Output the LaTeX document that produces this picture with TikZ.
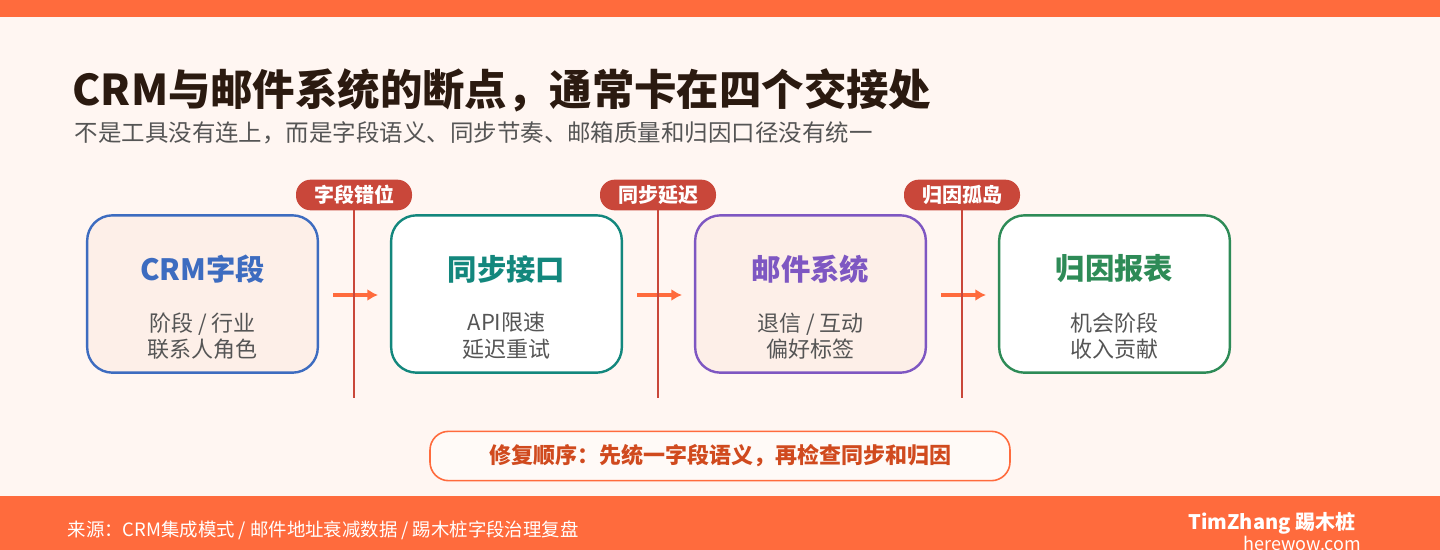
\documentclass[tikz,border=0pt]{standalone}
\usepackage{fontspec}
\setmainfont{Noto Sans CJK SC}
\begin{document}
\begin{tikzpicture}[x=0.75pt,y=-0.75pt,
  box/.style={draw,line width=1.8pt,rounded corners=19pt,minimum width=173pt,minimum height=118pt},
  ttl/.style={font=\fontsize{22}{24}\selectfont\bfseries},
  sub/.style={font=\fontsize{16.5}{20}\selectfont,text=txt,align=center},
  pill/.style={fill=pillc,rounded corners=11pt,minimum width=87pt,minimum height=23pt,text=white,font=\fontsize{15}{16}\selectfont\bfseries,inner sep=0pt},
  vl/.style={draw=pillc,line width=1.5pt},
  ar/.style={draw=orng,line width=2.6pt,-{Latex[length=8pt,width=9pt]}}]
\usetikzlibrary{arrows.meta}
\definecolor{orng}{HTML}{FF6B3D}
\definecolor{bg}{HTML}{FFF6F2}
\definecolor{peach}{HTML}{FDEFE8}
\definecolor{txt}{HTML}{555555}
\definecolor{pillc}{HTML}{C9473A}
\definecolor{c1}{HTML}{3D6CC0}
\definecolor{c2}{HTML}{13877D}
\definecolor{c3}{HTML}{7E57C2}
\definecolor{c4}{HTML}{2E8B57}
\useasboundingbox (0,0) rectangle (1440,550);
\fill[bg] (0,0) rectangle (1440,550);
\fill[orng] (0,0) rectangle (1440,17);
\fill[orng] (0,496) rectangle (1440,550);
\node[anchor=west,font=\fontsize{31.8}{34}\selectfont\bfseries,text={rgb,255:red,43;green,26;blue,16}] (title) at (68,90) {CRM与邮件系统的断点，通常卡在四个交接处};
\node[anchor=west,font=\fontsize{17.6}{20}\selectfont,text=txt] (subt) at (70,133) {不是工具没有连上，而是字段语义、同步节奏、邮箱质量和归因口径没有统一};
% boxes
\node[box,draw=c1,fill=peach] (b1) at (202.5,294) {};
\node[box,draw=c2,fill=white] (b2) at (506.5,294) {};
\node[box,draw=c3,fill=peach] (b3) at (810.5,294) {};
\node[box,draw=c4,fill=white] (b4) at (1114.5,294) {};
\node[ttl,text=c1] (t1) at (202.5,269) {CRM字段};
\node[ttl,text=c2] (t2) at (506.5,269) {同步接口};
\node[ttl,text=c3] (t3) at (810.5,269) {邮件系统};
\node[ttl,text=c4] (t4) at (1114.5,269) {归因报表};
\node[sub] (s1) at (202.5,336) {阶段 / 行业\\联系人角色};
\node[sub] (s2) at (506.5,336) {API限速\\延迟重试};
\node[sub] (s3) at (810.5,336) {退信 / 互动\\偏好标签};
\node[sub] (s4) at (1114.5,336) {机会阶段\\收入贡献};
% arrows
\foreach \i/\x in {1/333,2/637,3/941}{
  \coordinate (a\i) at (\x,295); \coordinate (e\i) at (\x+45,295);
  \draw[ar] (a\i) -- (e\i);}
% vertical lines and pills
\foreach \i/\x/\l in {1/354/字段错位,2/658/同步延迟,3/962/归因孤岛}{
  \coordinate (vt\i) at (\x,200); \coordinate (vb\i) at (\x,398);
  \draw[vl] (vt\i) -- (vb\i);
  \node[pill] (p\i) at (\x,195) {\l};}
% bottom banner
\node[draw=orng,line width=1.2pt,fill={rgb,255:red,255;green,250;blue,247},rounded corners=14pt,minimum width=435pt,minimum height=37pt,text={rgb,255:red,208;green,74;blue,30},font=\fontsize{16.5}{18}\selectfont\bfseries] (fix) at (720,456) {修复顺序：先统一字段语义，再检查同步和归因};
% footer
\node[anchor=west,text=white,font=\fontsize{13.8}{15}\selectfont] (src) at (63,530) {来源：CRM集成模式 / 邮件地址衰减数据 / 踢木桩字段治理复盘};
\node[anchor=east,text=white,font=\fontsize{15}{16}\selectfont\bfseries] (brand) at (1360,523) {TimZhang 踢木桩};
\node[anchor=east,text=white,font=\fontsize{13.5}{15}\selectfont] (web) at (1366,543) {herewow.com};
\end{tikzpicture}
\end{document}
